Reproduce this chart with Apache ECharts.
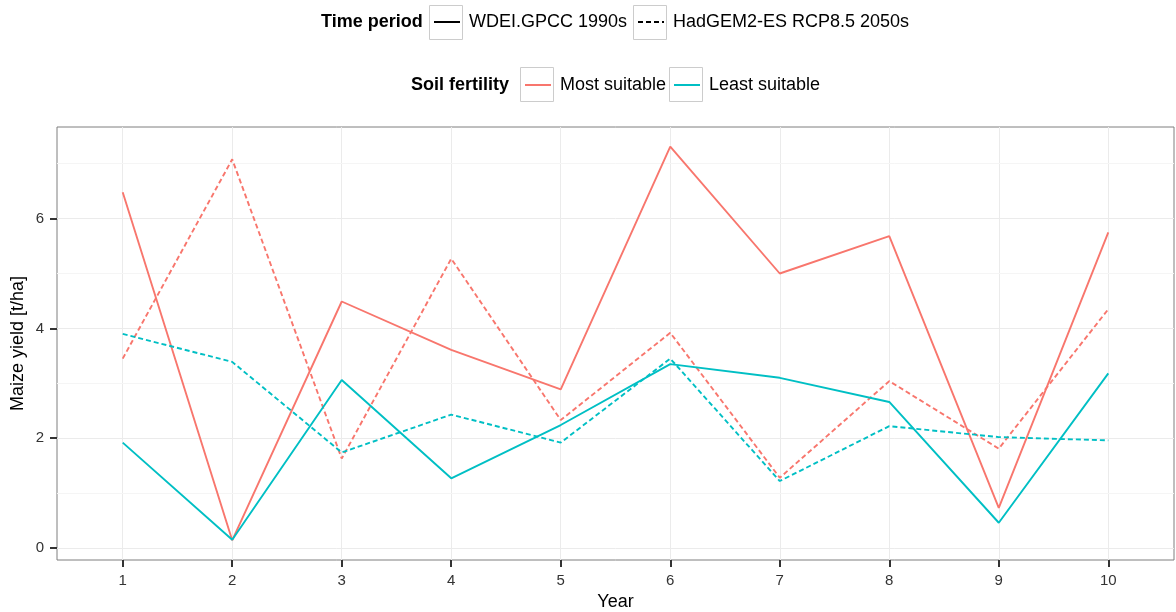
<!DOCTYPE html>
<html>
<head>
<meta charset="utf-8">
<title>Maize yield by year</title>
<script src="https://cdn.jsdelivr.net/npm/echarts@6/dist/echarts.min.js"></script>
<style>
  html, body { margin: 0; padding: 0; background: #ffffff; }
  #chart { width: 1176px; height: 612px; }
</style>
</head>
<body>
<div id="chart"></div>
<script>
// Yearly maize yield [t/ha] for two soil fertility classes and two time periods
const years = [1, 2, 3, 4, 5, 6, 7, 8, 9, 10];
const mostSuitable1990s  = [6.48, 0.14, 4.49, 3.61, 2.89, 7.31, 5.00, 5.68, 0.73, 5.75];
const mostSuitable2050s  = [3.45, 7.08, 1.63, 5.27, 2.33, 3.92, 1.28, 3.04, 1.81, 4.35];
const leastSuitable1990s = [1.92, 0.15, 3.06, 1.27, 2.24, 3.35, 3.10, 2.66, 0.46, 3.18];
const leastSuitable2050s = [3.90, 3.39, 1.74, 2.43, 1.92, 3.45, 1.22, 2.22, 2.02, 1.96];

const yMajorTicks = [0, 2, 4, 6];
const yMinorLines = [1, 3, 5, 7];

const periodNames = ['WDEI.GPCC 1990s', 'HadGEM2-ES RCP8.5 2050s'];
const fertilityNames = ['Most suitable', 'Least suitable'];

const RED = '#F8766D';
const CYAN = '#00BFC4';
const FONT = '"Liberation Sans", Arial, Helvetica, sans-serif';
const DASH = [5, 3];
const LINE_W = 1.9;

const pairs = (vals) => years.map((x, i) => [x, vals[i]]);

// Discrete x scale padded by 0.6 per side, continuous y scale padded by 5%
const allVals = [].concat(mostSuitable1990s, mostSuitable2050s, leastSuitable1990s, leastSuitable2050s);
const yLo = Math.min(...allVals), yHi = Math.max(...allVals);
const yPad = (yHi - yLo) * 0.05;

function lineSeries(name, vals, color, type) {
  return {
    type: 'line', name: name, data: pairs(vals),
    symbol: 'none', showSymbol: false, silent: true,
    lineStyle: { color: color, width: LINE_W, type: type },
    itemStyle: { color: color },
    z: 3
  };
}

function keySeries(name, type) {
  return {
    type: 'line', name: name, data: [], symbol: 'none',
    lineStyle: { color: '#000000', width: 1.7, type: type },
    itemStyle: { color: '#000000' }
  };
}

function legendItem(name, left, top) {
  return {
    data: [name], left: left, top: top, padding: 0,
    itemWidth: 26, itemHeight: 14, itemGap: 0,
    selectedMode: false,
    // key shows the line only, no point marker
    itemStyle: { opacity: 0 },
    textStyle: { fontFamily: FONT, fontSize: 18, color: '#000000', lineHeight: 20, padding: [0, 0, 0, 4] }
  };
}

function keyBox(x, y) {
  return {
    type: 'rect', silent: true,
    shape: { x: x, y: y, width: 33, height: 34 },
    style: { fill: '#ffffff', stroke: '#cccccc', lineWidth: 1 },
    z: -1
  };
}

const chart = echarts.init(document.getElementById('chart'), null, { renderer: 'canvas' });

chart.setOption({
  animation: false,
  backgroundColor: '#ffffff',
  title: [
    { text: 'Time period', left: 321, top: 12, padding: 0,
      textStyle: { fontFamily: FONT, fontSize: 18, fontWeight: 'bold', color: '#000000', lineHeight: 20 } },
    { text: 'Soil fertility', left: 411, top: 75, padding: 0,
      textStyle: { fontFamily: FONT, fontSize: 18, fontWeight: 'bold', color: '#000000', lineHeight: 20 } }
  ],
  legend: [
    legendItem(periodNames[0], 433, 12),
    legendItem(periodNames[1], 637, 12),
    legendItem(fertilityNames[0], 524, 75),
    legendItem(fertilityNames[1], 673, 75)
  ],
  graphic: [
    keyBox(429.5, 5.5),
    keyBox(633.5, 5.5),
    keyBox(520.5, 67.5),
    keyBox(669.5, 67.5)
  ],
  grid: {
    left: 57, right: 2, top: 127, bottom: 52,
    show: true, borderColor: '#7f7f7f', borderWidth: 1, backgroundColor: '#ffffff',
    outerBoundsMode: 'none'
  },
  xAxis: {
    type: 'value', min: 0.4, max: 10.6,
    name: 'Year', nameLocation: 'middle', nameGap: 33, nameMoveOverlap: false,
    nameTextStyle: { fontFamily: FONT, fontSize: 18, color: '#000000' },
    axisLine: { show: false, onZero: false },
    axisTick: { show: true, customValues: years, length: 7, lineStyle: { color: '#333333', width: 2 } },
    axisLabel: { customValues: years, margin: 13, fontFamily: FONT, fontSize: 15, color: '#333333' },
    splitLine: { show: true, lineStyle: { color: '#ebebeb', width: 1 } }
  },
  yAxis: [
    {
      type: 'value', min: yLo - yPad, max: yHi + yPad,
      name: 'Maize yield [t/ha]', nameLocation: 'middle', nameGap: 30, nameMoveOverlap: false,
      nameTextStyle: { fontFamily: FONT, fontSize: 18, color: '#000000' },
      axisLine: { show: false, onZero: false },
      axisTick: { show: true, customValues: yMajorTicks, length: 7, lineStyle: { color: '#333333', width: 2 } },
      axisLabel: { customValues: yMajorTicks, margin: 13, fontFamily: FONT, fontSize: 15, color: '#333333' },
      splitLine: { show: true, lineStyle: { color: '#ebebeb', width: 1 } },
      z: 2
    },
    {
      // minor horizontal guides between the labelled ticks
      type: 'value', min: yLo - yPad, max: yHi + yPad, position: 'left',
      axisLine: { show: false, onZero: false },
      axisTick: { show: false, customValues: yMinorLines },
      axisLabel: { show: false, customValues: yMinorLines },
      splitLine: { show: true, lineStyle: { color: '#f5f5f5', width: 1 } },
      z: 1
    }
  ],
  series: [
    lineSeries(fertilityNames[0], mostSuitable1990s, RED, 'solid'),
    lineSeries(fertilityNames[0], mostSuitable2050s, RED, DASH),
    lineSeries(fertilityNames[1], leastSuitable1990s, CYAN, 'solid'),
    lineSeries(fertilityNames[1], leastSuitable2050s, CYAN, DASH),
    keySeries(periodNames[0], 'solid'),
    keySeries(periodNames[1], DASH)
  ]
});
</script>
</body>
</html>
